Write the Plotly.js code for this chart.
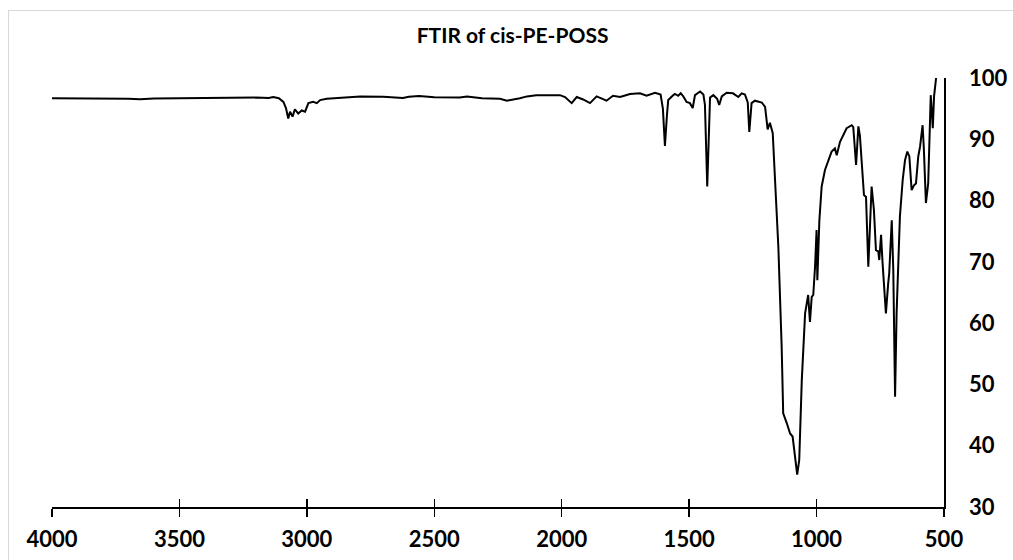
<!DOCTYPE html>
<html>
<head>
<meta charset="utf-8">
<script src="https://cdn.plot.ly/plotly-3.0.1.min.js"></script>
<style>
  html, body { margin: 0; padding: 0; background: #ffffff; overflow: hidden; }
  #wrap { position: relative; width: 1013px; height: 560px; }
  #chart { position: absolute; left: 0; top: 0; width: 1013px; height: 560px; }
  #frame { position: absolute; left: 8px; top: 10px; width: 1200px; height: 800px;
           border: 1px solid #d9d9d9; pointer-events: none; box-sizing: border-box; }
</style>
</head>
<body>
<div id="wrap">
  <div id="chart"></div>
  <div id="frame"></div>
</div>
<script>
// Wavenumber (cm-1) and transmittance (%)
const wavenumber = [
  4000, 3900, 3800, 3700, 3655, 3600, 3500, 3400, 3300, 3200, 3150, 3132, 3110,
  3092, 3082, 3073, 3066, 3056, 3047, 3034, 3020, 3007, 2994, 2975, 2961, 2948,
  2922, 2870, 2791, 2700, 2623, 2600, 2560, 2500, 2450, 2400, 2372, 2313, 2242,
  2215, 2164, 2136, 2100, 2007, 1987, 1961, 1941, 1916, 1889, 1863, 1824, 1799,
  1771, 1732, 1693, 1667, 1634, 1612, 1603, 1595, 1587, 1582, 1565, 1556, 1543,
  1533, 1523, 1510, 1497, 1486, 1477, 1457, 1444, 1438, 1429, 1418, 1405, 1390,
  1382, 1372, 1353, 1328, 1307, 1294, 1281, 1270, 1264, 1255, 1242, 1215, 1202,
  1192, 1183, 1172, 1163, 1159, 1150, 1137, 1131, 1117, 1104, 1094, 1085, 1076,
  1068, 1058, 1045, 1033, 1026, 1019, 1013, 1006, 1000, 997, 989, 980, 967, 954,
  941, 928, 921, 908, 882, 862, 856, 845, 836, 830, 823, 814, 806, 797, 784, 775,
  767, 758, 754, 747, 741, 735, 728, 719, 715, 705, 699, 692, 686, 673, 662, 653,
  644, 636, 627, 618, 610, 601, 594, 584, 579, 571, 562, 552, 544, 539, 531
];
const transmittance = [
  96.7, 96.7, 96.65, 96.6, 96.55, 96.65, 96.7, 96.75, 96.8, 96.8, 96.75, 96.9, 96.7,
  96.1, 95.1, 93.4, 94.5, 93.7, 94.9, 94.2, 94.7, 94.5, 95.9, 96.1, 95.9, 96.4,
  96.6, 96.8, 97.0, 96.95, 96.75, 96.95, 97.05, 96.85, 96.8, 96.8, 97.0, 96.7, 96.6,
  96.3, 96.7, 97.0, 97.2, 97.2, 96.9, 95.9, 96.9, 96.5, 95.9, 97.0, 96.3, 97.1,
  96.9, 97.4, 97.5, 97.1, 97.6, 97.3, 95.0, 88.9, 94.0, 96.4, 97.1, 97.4, 97.1,
  97.5, 97.0, 96.1, 95.9, 95.1, 97.2, 97.8, 97.3, 95.6, 82.3, 96.8, 97.2, 96.6,
  95.6, 97.0, 97.6, 97.5, 96.9, 97.5, 97.3, 96.0, 91.2, 95.9, 96.3, 96.0, 95.3,
  91.6, 92.7, 91.0, 83.4, 80.1, 72.5, 56.2, 45.3, 43.7, 42.0, 41.5, 38.8, 35.3,
  37.7, 50.7, 61.6, 64.6, 60.2, 64.3, 64.6, 69.2, 75.2, 67.0, 76.8, 82.3, 85.0, 86.6,
  88.0, 88.5, 87.4, 89.6, 91.8, 92.3, 92.0, 85.8, 92.1, 90.6, 85.8, 80.9, 80.6, 69.2, 82.3, 78.5,
  71.9, 71.7, 70.3, 74.4, 69.8, 66.0, 61.6, 66.5, 68.1, 76.8, 68.7, 48.0, 61.6, 77.4, 83.4, 86.6,
  88.0, 87.2, 81.7, 82.5, 82.8, 87.2, 88.8, 92.3, 88.4, 79.6, 82.8, 97.2, 91.8, 97.0, 100.0
];
const xTicks = [4000, 3500, 3000, 2500, 2000, 1500, 1000, 500];
const yTicks = [30, 40, 50, 60, 70, 80, 90, 100];
const chartTitle = 'FTIR of cis-PE-POSS';

const tickFont = { family: 'Lato, "Open Sans", sans-serif', size: 22, color: '#000000', weight: 700 };

const traces = [
  {
    x: wavenumber, y: transmittance, type: 'scatter', mode: 'lines',
    line: { color: '#000000', width: 2 }, hoverinfo: 'skip', showlegend: false
  },
  {
    x: wavenumber, y: transmittance, type: 'scatter', mode: 'lines', xaxis: 'x2',
    line: { color: 'rgba(0,0,0,0)', width: 0 }, hoverinfo: 'skip', showlegend: false
  }
];

const layout = {
  width: 1013, height: 560,
  margin: { l: 52, r: 69, t: 78, b: 53, pad: 0 },
  paper_bgcolor: 'rgba(0,0,0,0)', plot_bgcolor: 'rgba(0,0,0,0)',
  showlegend: false,
  title: {
    text: chartTitle,
    font: { family: 'Lato, "Open Sans", sans-serif', size: 21, color: '#000000', weight: 700 },
    x: 0.506, xref: 'container', xanchor: 'center',
    y: 0.936, yref: 'container', yanchor: 'middle'
  },
  xaxis: {
    range: [4000, 500], tickvals: xTicks, ticktext: xTicks.map(String),
    ticks: 'outside', ticklen: 8, tickwidth: 1.5, tickcolor: '#000000',
    showline: true, linewidth: 1.5, linecolor: '#000000',
    showgrid: false, zeroline: false, tickfont: tickFont, ticklabelstandoff: 4,
    fixedrange: true
  },
  xaxis2: {
    overlaying: 'x', anchor: 'y', side: 'bottom',
    range: [4000, 500], tickvals: xTicks,
    ticks: 'inside', ticklen: 8, tickwidth: 1.5, tickcolor: '#000000',
    showticklabels: false, showline: false, showgrid: false, zeroline: false,
    fixedrange: true
  },
  yaxis: {
    range: [30, 100], side: 'right', tickvals: yTicks, ticktext: yTicks.map(String),
    ticks: '', showline: true, linewidth: 1.5, linecolor: '#000000',
    showgrid: false, zeroline: false, tickfont: tickFont, ticklabelstandoff: 19,
    fixedrange: true
  }
};

Plotly.newPlot('chart', traces, layout, { displayModeBar: false, staticPlot: true });
</script>
</body>
</html>
